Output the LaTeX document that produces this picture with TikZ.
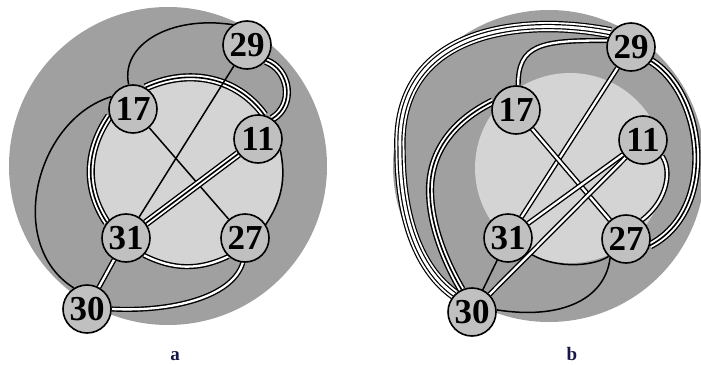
\documentclass[tikz,border=0pt]{standalone}
\usepackage{fontspec}
\setmainfont{Liberation Serif}
\pgfdeclarelayer{bg}
\pgfdeclarelayer{edges}
\pgfsetlayers{bg,edges,main}
\definecolor{outg}{RGB}{160,160,160}
\definecolor{ing}{RGB}{212,212,212}
\definecolor{nodeg}{RGB}{192,192,192}
\definecolor{labc}{RGB}{22,22,72}
\begin{document}
\begin{tikzpicture}[x=1pt,y=-1pt,
  vtx/.style={circle, draw, line width=1.6pt, fill=nodeg, minimum size=48pt, inner sep=0pt, font=\fontsize{35}{35}\selectfont\bfseries},
  e1/.style={line width=1.5pt},
  e2/.style={line width=1.4pt, double=white, double distance=2.3pt},
  e3/.style={line width=1.6pt, preaction={draw, line width=1.4pt, double=white, double distance=5.4pt}},
  e4/.style={line width=1.2pt, double=white, double distance=2.8pt, preaction={draw, line width=1.2pt, double=white, double distance=9pt}},
  lab/.style={font=\fontsize{19}{19}\selectfont\bfseries, text=labc}
]
\useasboundingbox (0,0) rectangle (701,364);
% backgrounds
\begin{pgfonlayer}{bg}
  \fill[outg] (168,166) circle[radius=159pt];
  \fill[ing] (187,171) circle[radius=95pt];
  \fill[outg] (549,166) circle[radius=156pt];
  \fill[ing] (570,168) circle[radius=95pt];
\end{pgfonlayer}
% panel a nodes
\node[vtx] (A29) at (247,45) {29};
\node[vtx] (A17) at (133,109) {17};
\node[vtx] (A11) at (258,139) {11};
\node[vtx] (A31) at (126,238) {31};
\node[vtx] (A27) at (245,238) {27};
\node[vtx] (A30) at (87,309) {30};
% panel b nodes
\node[vtx] (B29) at (631,47) {29};
\node[vtx] (B17) at (516,110) {17};
\node[vtx] (B11) at (643,140) {11};
\node[vtx] (B31) at (508,238) {31};
\node[vtx] (B27) at (626,239) {27};
\node[vtx] (B30) at (472,312) {30};
% labels
\node[lab] (La) at (175,356) {a};
\node[lab] (Lb) at (572,354) {b};
\begin{pgfonlayer}{edges}
  % panel a
  \draw[e3] (A17.60) .. controls (188.5,67.7) and (236.5,76.7) .. (A11.75);
  \draw[e3] (A17.197) .. controls (86,150) and (84,188) .. (A31.141);
  \draw[e2] (A31.-44) .. controls (173,270) and (199,270.5) .. (A27.228);
  \draw[e1] (A11.-26) .. controls (286.3,178.7) and (281.9,200) .. (A27.33);
  \draw[e1] (A17.100) .. controls (120,45) and (170,15) .. (A29.125);
  \draw[e3] (A29.-40) .. controls (290,70) and (295,105) .. (A11.55);
  \draw[e1] (A17.150) .. controls (35,120) and (5,245) .. (A30.122);
  \draw[e2] (A30.0) .. controls (170,312) and (232,298) .. (A27.-95);
  \draw[e1] (A29) -- (A31);
  \draw[e1] (A17) -- (A27);
  \draw[e3] (A31) -- (A11);
  \draw[e2] (A31) -- (A30);
  % panel b
  \draw[e4] (B29.145) .. controls (520,15) and (395,30) .. (400,150) .. controls (400,220) and (420,270) .. (B30.135);
  \draw[e2] (B29.165) .. controls (540,40) and (518,45) .. (B17.85);
  \draw[e3] (B17.160) .. controls (455,120) and (430,150) .. (430,190) .. controls (430,230) and (450,270) .. (B30.115);
  \draw[e2] (B11.-40) .. controls (672,170) and (668,200) .. (B27.50);
  \draw[e3] (B29.-35) .. controls (705,95) and (718,210) .. (B27.-15);
  \draw[e1] (B31.-35) .. controls (550,268) and (590,268) .. (B27.225);
  \draw[e1] (B30.5) .. controls (560,320) and (605,300) .. (B27.230);
  \draw[e2] (B29) -- (B31);
  \draw[e2] (B17) -- (B27);
  \draw[e2] (B11) -- (B31);
  \draw[e2] (B11) -- (B30);
  \draw[e1] (B31) -- (B30);
\end{pgfonlayer}
\end{tikzpicture}
\end{document}
